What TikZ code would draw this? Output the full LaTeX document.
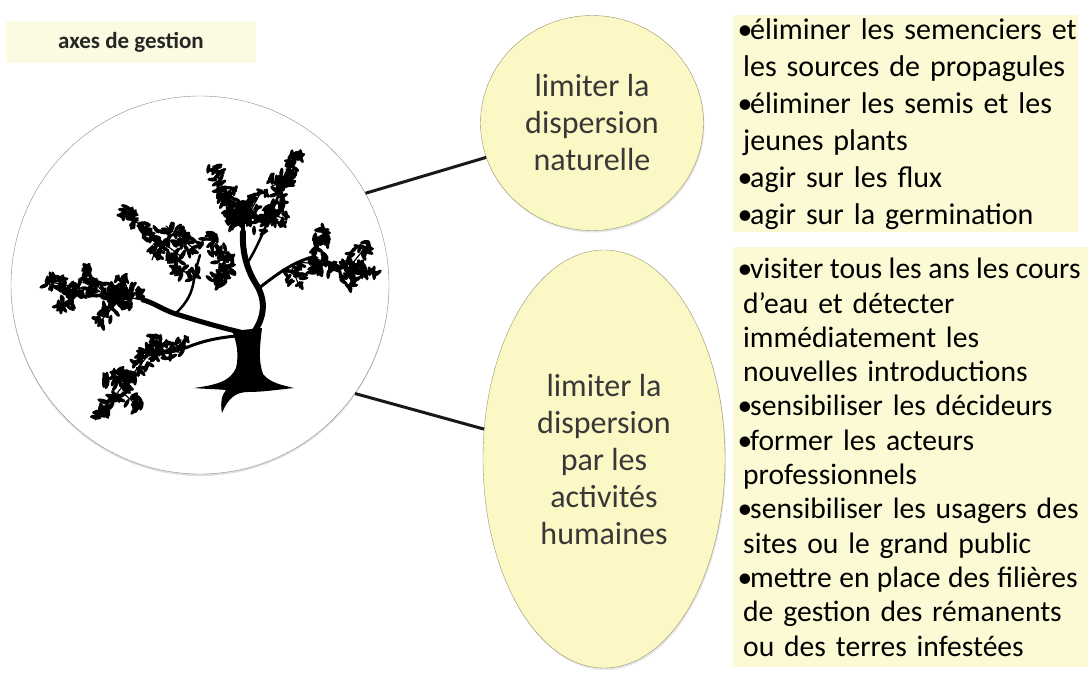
\documentclass[tikz,border=0pt]{standalone}
\usepackage{fontspec}
\setmainfont{Carlito}
\usetikzlibrary{shapes.geometric,shadows}

\definecolor{jauneaxe}{RGB}{252,248,198}
\definecolor{jauneliste}{RGB}{252,250,212}
\definecolor{jaunetitre}{RGB}{251,251,226}
\definecolor{bordeaxe}{RGB}{150,148,112}

\newcommand{\puce}[1]{\mbox{\makebox[13pt][l]{\hspace{0.5pt}•}#1}}
\newcommand{\suite}[1]{\mbox{\hspace*{6pt}#1}}

\begin{document}
\begin{tikzpicture}[x=1pt,y=-1pt,
    axe/.style={ellipse, draw=bordeaxe, fill=jauneaxe, inner sep=0pt, align=center,
        text=black!78, font=\fontsize{32}{37}\selectfont,
        drop shadow={opacity=0.2, shadow xshift=1pt, shadow yshift=-2pt}},
    liste/.style={anchor=north west, fill=jauneliste, inner xsep=4pt, inner ysep=0pt, align=left},
    lien/.style={line width=3pt, black!90},
    rama/.style={line cap=round, line join=round},
    ramita/.style={line width=1.2pt, line cap=round},
    hoja/.style={black}]

\useasboundingbox (0,0) rectangle (1088,673);

% Titre
\node[fill=jaunetitre, minimum width=250pt, minimum height=42pt, text=black!85,
    font=\bfseries\fontsize{23}{27}\selectfont] (titre) at (131,42) {axes de gestion};

% Cercle de l'arbre
\node[circle, draw=black!45, fill=white, minimum size=378pt, inner sep=0pt,
    drop shadow={opacity=0.25, shadow xshift=0pt, shadow yshift=-2pt}] (arbre) at (200,285) {};

% Tronc et racines
\fill[black] (194,388) .. controls (215,385) and (230,382) .. (236,368)
    .. controls (239,355) and (237,342) .. (232,331)
    -- (262,328)
    .. controls (260,345) and (258,360) .. (263,374)
    .. controls (270,383) and (282,385) .. (294,388)
    .. controls (275,390) and (262,392) .. (248,392)
    .. controls (236,392) and (228,398) .. (222,413)
    .. controls (220,402) and (222,395) .. (226,390)
    .. controls (215,389) and (205,389) .. (194,388) -- cycle;

% Branches
\draw[rama, line width=6pt] (254,332) .. controls (266,315) and (265,298) .. (256,284)
    .. controls (246,268) and (242,250) .. (243,232);
\draw[rama, line width=4pt] (243,232) -- (243,214);
\draw[rama, line width=5pt] (240,332) .. controls (215,326) and (195,320) .. (173,313)
    .. controls (160,308) and (152,302) .. (143,300);
\draw[rama, line width=3pt] (236,336) .. controls (215,338) and (200,342) .. (188,347)
    .. controls (175,352) and (162,354) .. (150,353);
\draw[rama, line width=2.5pt] (176,313) .. controls (188,302) and (192,292) .. (194,280)
    .. controls (196,268) and (198,262) .. (200,255);
\draw[rama, line width=3pt] (259,288) .. controls (275,276) and (292,262) .. (313,257);
\draw[rama, line width=2.5pt] (248,262) .. controls (262,240) and (276,200) .. (296,152);
\fill[black] (243,212) ellipse (9 and 12);

% Feuillage: ramitas con hojas al azar
\pgfmathsetseed{17}
\foreach \xa/\ya/\xb/\yb in {
    142/300/45/281, 122/297/98/324, 104/293/82/268, 80/289/58/310, 132/300/122/276,
    188/347/150/353, 150/353/95/420, 160/353/148/334, 130/378/104/378, 122/392/140/408,
    183/258/122/211, 198/252/166/226, 228/268/206/232, 196/278/174/266, 160/238/152/260,
    215/285/232/262, 240/226/213/166, 236/200/216/190, 262/235/297/152,
    243/225/262/190, 262/210/287/220, 272/186/292/178,
    300/262/378/272, 315/256/325/228, 342/264/354/286, 352/264/368/244, 292/268/300/288} {
    \draw[ramita] (\xa,\ya) -- (\xb,\yb);
    \pgfmathsetmacro{\ang}{atan2(\ya-\yb,\xb-\xa)}
    \pgfmathsetmacro{\lon}{veclen(\xb-\xa,\yb-\ya)}
    \pgfmathtruncatemacro{\nh}{\lon/1.2}
    \foreach \i in {1,...,\nh} {
        \pgfmathsetmacro{\pos}{rnd}
        \pgfmathsetmacro{\desv}{10*rand*(1-0.4*\pos)}
        \pgfmathsetmacro{\px}{\xa+\pos*(\xb-\xa)-\desv*(\yb-\ya)/\lon}
        \pgfmathsetmacro{\py}{\ya+\pos*(\yb-\ya)+\desv*(\xb-\xa)/\lon}
        \pgfmathsetmacro{\la}{\ang+90*rand}
        \fill[hoja, rotate around={\la:(\px,\py)}] (\px,\py) ellipse (5 and 2);
    }
}

% Axes
\node[axe, minimum width=223pt, minimum height=215pt] (nat) at (592,123)
    {limiter la\\dispersion\\naturelle};
\node[axe, minimum width=242pt, minimum height=418pt] (hum) at (604,459)
    {limiter la\\dispersion\\par les\\activités\\humaines};

\draw[lien] (arbre.29) -- (nat.198);
\draw[lien] (arbre.-35) -- (hum.166);

% Actions
\node[liste, text width=337pt, minimum height=217pt, font=\fontsize{30}{37}\selectfont]
    (listenat) at (733,15) {%
    \puce{éliminer les semenciers et}\\
    \suite{les sources de propagules}\\
    \puce{éliminer les semis et les}\\
    \suite{jeunes plants}\\
    \puce{agir sur les flux}\\
    \puce{agir sur la germination}};
\node[liste, text width=347pt, minimum height=420pt, font=\fontsize{29.6}{34.3}\selectfont]
    (listehum) at (733,247) {%
    \puce{\spaceskip=0.22em visiter tous les ans les cours}\\
    \suite{d’eau et détecter}\\
    \suite{immédiatement les}\\
    \suite{nouvelles introductions}\\
    \puce{sensibiliser les décideurs}\\
    \puce{former les acteurs}\\
    \suite{professionnels}\\
    \puce{sensibiliser les usagers des}\\
    \suite{sites ou le grand public}\\
    \puce{\spaceskip=0.25em mettre en place des filières}\\
    \suite{de gestion des rémanents}\\
    \suite{ou des terres infestées}};

\end{tikzpicture}
\end{document}
